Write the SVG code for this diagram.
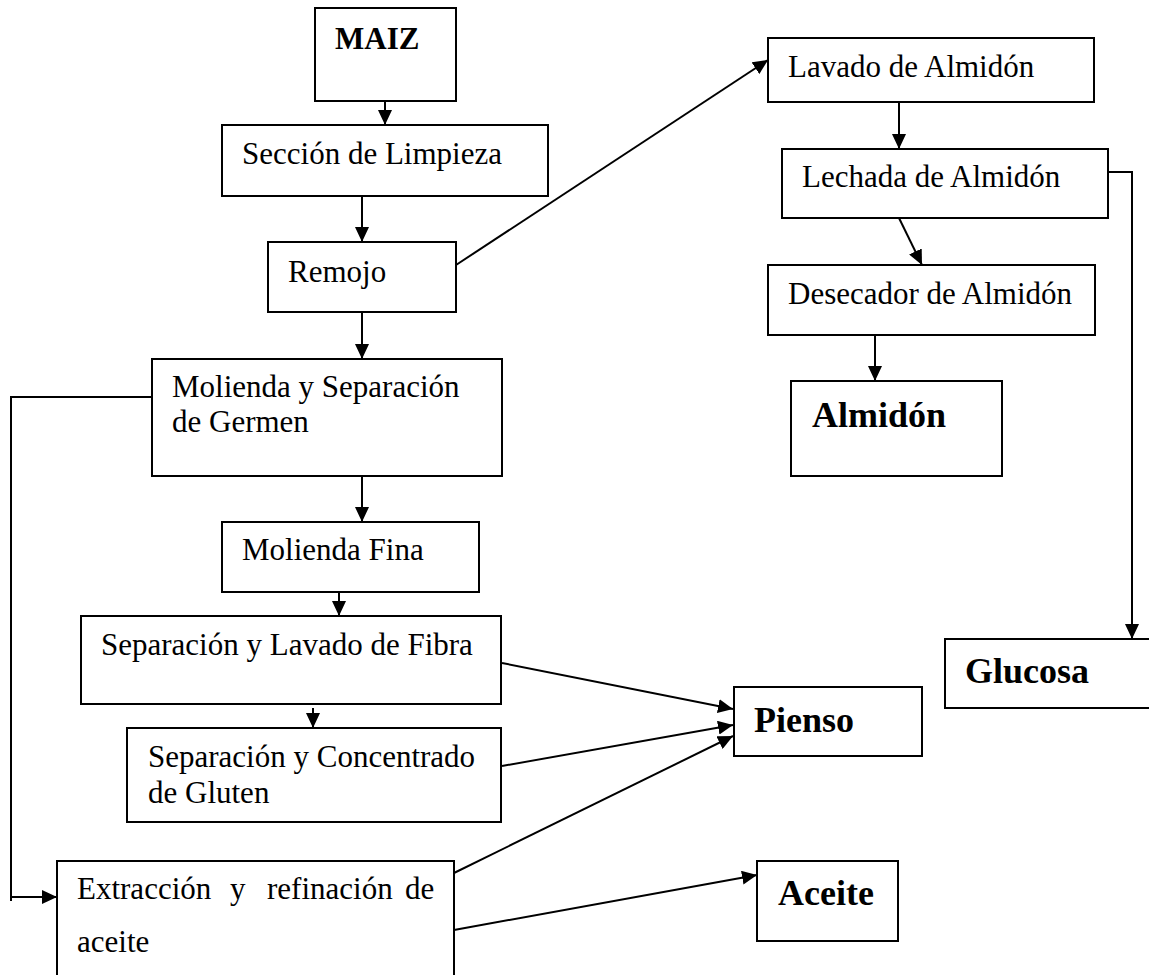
<svg xmlns="http://www.w3.org/2000/svg" width="1149" height="975" viewBox="0 0 1149 975">
<style>
.box{fill:#fff;stroke:#000;stroke-width:2}
.t{font-family:"Liberation Serif","Times New Roman",serif;font-size:31px;fill:#000}
.b{font-family:"Liberation Serif","Times New Roman",serif;font-size:36px;font-weight:bold;fill:#000}
.c{fill:none;stroke:#000;stroke-width:2}
</style>
<defs>
<marker id="ah" viewBox="0 0 15 14" refX="15" refY="7" markerWidth="15" markerHeight="14" markerUnits="userSpaceOnUse" orient="auto">
<path d="M0,0 L15,7 L0,14 z" fill="#000"/>
</marker>
</defs>
<rect width="1149" height="975" fill="#fff"/>
<g id="connectors">
<line class="c" x1="385" y1="101" x2="385" y2="125" marker-end="url(#ah)"/>
<line class="c" x1="362" y1="196" x2="362" y2="242" marker-end="url(#ah)"/>
<line class="c" x1="362" y1="312" x2="362" y2="359" marker-end="url(#ah)"/>
<line class="c" x1="456" y1="265" x2="768" y2="60" marker-end="url(#ah)"/>
<line class="c" x1="899" y1="102" x2="899" y2="149" marker-end="url(#ah)"/>
<line class="c" x1="899" y1="218" x2="922" y2="265" marker-end="url(#ah)"/>
<line class="c" x1="875" y1="335" x2="875" y2="381" marker-end="url(#ah)"/>
<polyline class="c" points="1108,172 1132,172 1132,639" marker-end="url(#ah)"/>
<line class="c" x1="362" y1="476" x2="362" y2="522" marker-end="url(#ah)"/>
<line class="c" x1="339" y1="592" x2="339" y2="616" marker-end="url(#ah)"/>
<line class="c" x1="313" y1="708" x2="313" y2="728" marker-end="url(#ah)"/>
<polyline class="c" points="152,397 11,397 11,901"/>
<line class="c" x1="11" y1="897" x2="57" y2="897" marker-end="url(#ah)"/>
<line class="c" x1="502" y1="663" x2="733" y2="709" marker-end="url(#ah)"/>
<line class="c" x1="502" y1="766" x2="733" y2="725" marker-end="url(#ah)"/>
<line class="c" x1="454" y1="873" x2="733" y2="736" marker-end="url(#ah)"/>
<line class="c" x1="454" y1="930" x2="757" y2="875" marker-end="url(#ah)"/>
</g>
<g id="maiz"><rect class="box" x="315" y="8" width="141" height="93"/><text class="t" x="335" y="49" style="font-weight:bold">MAIZ</text></g>
<g id="limpieza"><rect class="box" x="222" y="125" width="326" height="71"/><text class="t" x="242" y="164">Sección de Limpieza</text></g>
<g id="remojo"><rect class="box" x="268" y="242" width="188" height="70"/><text class="t" x="288" y="282">Remojo</text></g>
<g id="molienda-germen"><rect class="box" x="152" y="359" width="350" height="117"/><text class="t" x="172" y="397">Molienda y Separación</text><text class="t" x="172" y="432">de Germen</text></g>
<g id="molienda-fina"><rect class="box" x="222" y="522" width="257" height="70"/><text class="t" x="242" y="560">Molienda Fina</text></g>
<g id="fibra"><rect class="box" x="81" y="616" width="420" height="88"/><text class="t" x="101" y="655">Separación y Lavado de Fibra</text></g>
<g id="gluten"><rect class="box" x="127" y="728" width="374" height="94"/><text class="t" x="148" y="767">Separación y Concentrado</text><text class="t" x="148" y="803">de Gluten</text></g>
<g id="extraccion"><rect class="box" x="57" y="861" width="397" height="130"/><text class="t" y="899"><tspan x="77">Extracción</tspan><tspan x="230">y</tspan><tspan x="267">refinación</tspan><tspan x="405">de</tspan></text><text class="t" x="77" y="952">aceite</text></g>
<g id="lavado"><rect class="box" x="768" y="38" width="326" height="64"/><text class="t" x="788" y="77">Lavado de Almidón</text></g>
<g id="lechada"><rect class="box" x="782" y="149" width="326" height="69"/><text class="t" x="802" y="187">Lechada de Almidón</text></g>
<g id="desecador"><rect class="box" x="768" y="265" width="327" height="70"/><text class="t" x="788" y="304">Desecador de Almidón</text></g>
<g id="almidon"><rect class="box" x="791" y="381" width="211" height="95"/><text class="b" x="812" y="427">Almidón</text></g>
<g id="glucosa"><rect class="box" x="945" y="639" width="215" height="69"/><text class="b" x="965" y="683">Glucosa</text></g>
<g id="pienso"><rect class="box" x="734" y="687" width="188" height="69"/><text class="b" x="754" y="732">Pienso</text></g>
<g id="aceite"><rect class="box" x="757" y="861" width="141" height="80"/><text class="b" x="778" y="905">Aceite</text></g>
</svg>
